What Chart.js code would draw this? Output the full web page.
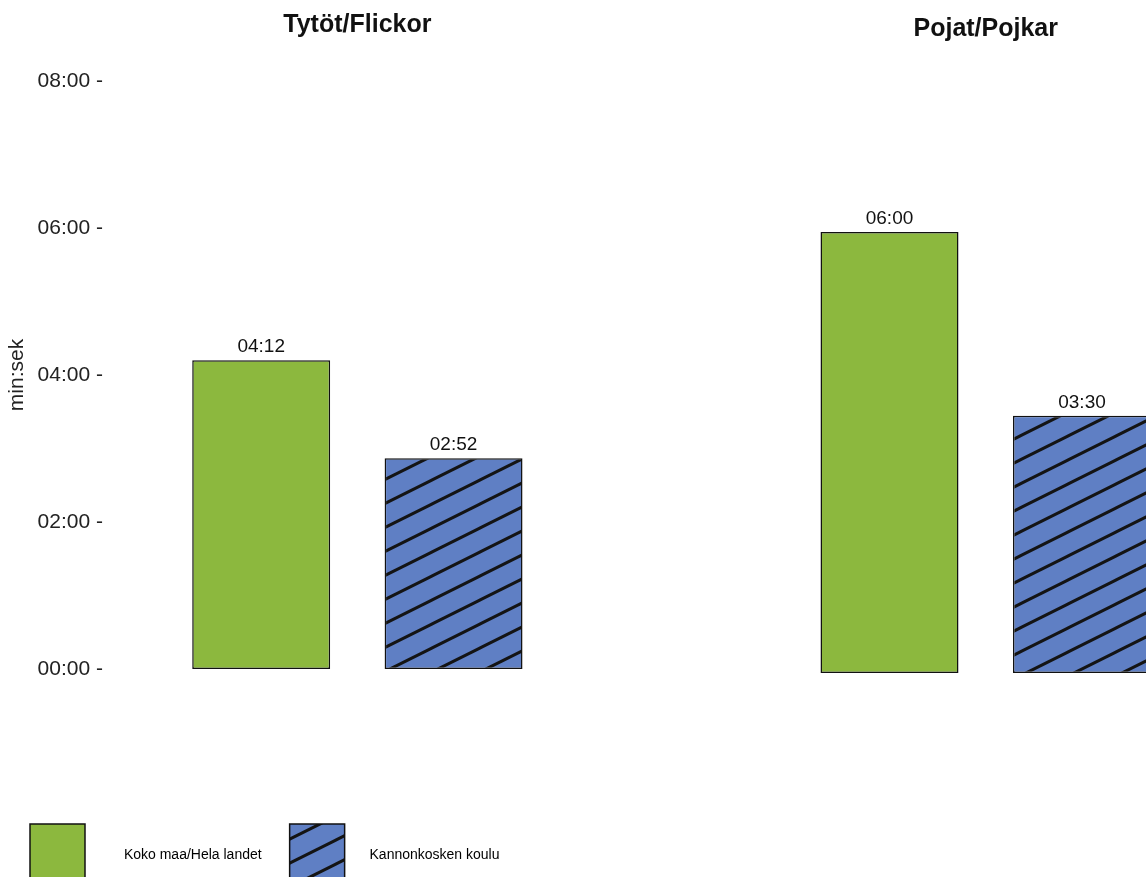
<!DOCTYPE html>
<html>
<head>
<meta charset="utf-8">
<script src="https://cdn.jsdelivr.net/npm/chart.js@4"></script>
<style>
    body { margin: 0; width: 1146px; height: 877px; overflow: hidden; background: #fff; position: relative; }
    canvas { position: absolute; }
    #girlsChart { left: 0; top: 0; }
    #boysChart { left: 780px; top: 4px; }
</style>
</head>
<body>
<canvas id="girlsChart" width="560" height="896"></canvas>
<canvas id="boysChart" width="420" height="896"></canvas>
<script>
// Data (seconds)
const groups = ['Tytöt/Flickor', 'Pojat/Pojkar'];
const seriesNames = ['Koko maa/Hela landet', 'Kannonkosken koulu'];
const nationalSecs = [252, 360];
const schoolSecs = [172, 210];
const yTicks = [0, 120, 240, 360, 480];

const FONT = "'Liberation Sans', Arial, Helvetica, sans-serif";
const GREEN = '#8cb83e';
const BLUE = '#5f7fc4';

// mm:ss from seconds
function fmt(secs) {
    const m = Math.floor(secs / 60);
    const s = Math.round(secs - m * 60);
    return String(m).padStart(2, '0') + ':' + String(s).padStart(2, '0');
}

// Diagonal hatch fill
function makeHatch(bg) {
    const c = document.createElement('canvas');
    c.width = 48;
    c.height = 24;
    const x = c.getContext('2d');
    x.fillStyle = bg;
    x.fillRect(0, 0, 48, 24);
    x.strokeStyle = '#141414';
    x.lineWidth = 3;
    [-24, 0, 24].forEach(off => {
        x.beginPath();
        x.moveTo(-4, 26 + off);
        x.lineTo(52, -2 + off);
        x.stroke();
    });
    return x.createPattern(c, 'repeat');
}
const hatch = makeHatch(BLUE);

// Value labels above bars
const valueLabels = {
    id: 'valueLabels',
    afterDatasetsDraw(chart) {
        const ctx = chart.ctx;
        ctx.save();
        ctx.font = '19px ' + FONT;
        ctx.fillStyle = '#111';
        ctx.textAlign = 'center';
        ctx.textBaseline = 'alphabetic';
        chart.data.datasets.forEach((ds, i) => {
            chart.getDatasetMeta(i).data.forEach((bar, j) => {
                const v = ds.data[j];
                if (v == null) return;
                ctx.fillText(fmt(v), bar.x, bar.y - 8);
            });
        });
        ctx.restore();
    }
};

function makeChart(id, g, first) {
    const ctx = document.getElementById(id).getContext('2d');
    return new Chart(ctx, {
        type: 'bar',
        data: {
            labels: seriesNames,
            datasets: [{
                label: seriesNames[0],
                data: [nationalSecs[g], null],
                backgroundColor: GREEN,
                borderColor: '#111',
                borderWidth: 1.5,
                borderSkipped: false
            }, {
                label: seriesNames[1],
                data: [null, schoolSecs[g]],
                backgroundColor: hatch,
                borderColor: '#111',
                borderWidth: 1.5,
                borderSkipped: false
            }]
        },
        options: {
            responsive: false,
            animation: false,
            devicePixelRatio: 1,
            grouped: false,
            barPercentage: 0.717,
            categoryPercentage: 1,
            layout: {
                padding: first ? { left: 2, right: 10.25 } : { left: 13.25, right: 21.75 }
            },
            scales: {
                x: {
                    grid: { display: false, drawTicks: false },
                    border: { display: false },
                    ticks: { display: false },
                    afterFit: s => { s.height = first ? 127 : 227; }
                },
                y: {
                    display: first,
                    min: 0,
                    max: 480,
                    afterBuildTicks: s => { s.ticks = yTicks.map(v => ({ value: v })); },
                    grid: { display: false, drawTicks: false },
                    border: { display: false },
                    ticks: {
                        padding: 62,
                        color: '#222',
                        font: { family: FONT, size: 21 },
                        callback: v => fmt(v) + ' -'
                    },
                    title: {
                        display: true,
                        text: 'min:sek',
                        color: '#222',
                        font: { family: FONT, size: 21 },
                        padding: { top: 3, bottom: 0 }
                    },
                    afterFit: s => { if (first) s.width = 163; }
                }
            },
            plugins: {
                title: {
                    display: true,
                    text: groups[g],
                    fullSize: false,
                    color: '#111',
                    font: { family: FONT, size: 25, weight: 'bold' },
                    padding: { top: 10, bottom: 41 }
                },
                legend: {
                    display: first,
                    position: 'bottom',
                    align: 'start',
                    labels: {
                        boxWidth: 55,
                        boxHeight: 62,
                        padding: 28,
                        color: '#111',
                        font: { family: FONT, size: 14 },
                        generateLabels: chart => chart.data.datasets.map((ds, i) => ({
                            text: (i === 0 ? '\u2002\u2002\u2002\u2002 ' : '\u2002\u2002 ') + ds.label,
                            fillStyle: ds.backgroundColor,
                            strokeStyle: '#111',
                            lineWidth: 1.5,
                            datasetIndex: i
                        }))
                    }
                },
                tooltip: { enabled: false }
            }
        },
        plugins: [valueLabels]
    });
}

makeChart('girlsChart', 0, true);
makeChart('boysChart', 1, false);
</script>
</body>
</html>
